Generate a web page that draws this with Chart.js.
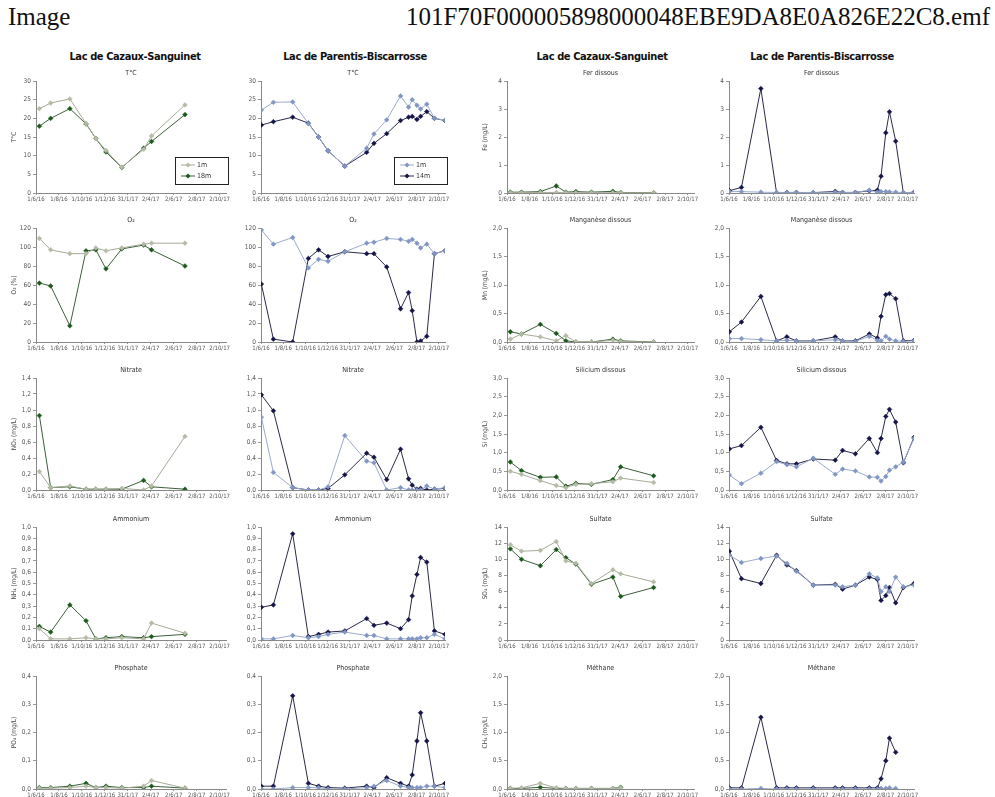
<!DOCTYPE html>
<html>
<head>
<meta charset="utf-8">
<script src="https://cdn.jsdelivr.net/npm/chart.js@4.4.0/dist/chart.umd.min.js"></script>
<style>
body { margin: 0; background: #fff; width: 995px; height: 797px; overflow: hidden; position: relative;
       font-family: "Liberation Sans Narrow", "DejaVu Sans Condensed", sans-serif; }
.hdr { position: absolute; top: 4px; font-family: "Liberation Serif", serif; font-size: 25px; line-height: 25px; color: #111; }
.lake { position: absolute; top: 50px; font-size: 11px; font-weight: bold; color: #111;
        transform: translateX(-50%); white-space: nowrap; letter-spacing: -0.4px; }
canvas { position: absolute; }
</style>
</head>
<body>
<div class="hdr" style="left:8px">Image</div>
<div class="hdr" style="right:5px">101F70F000005898000048EBE9DA8E0A826E22C8.emf</div>
<div class="lake" style="left:135px">Lac de Cazaux-Sanguinet</div>
<div class="lake" style="left:355px">Lac de Parentis-Biscarrosse</div>
<div class="lake" style="left:602px">Lac de Cazaux-Sanguinet</div>
<div class="lake" style="left:822px">Lac de Parentis-Biscarrosse</div>
<script>
// Sampling dates
const cazDates = ['2016-06-10', '2016-07-10', '2016-08-30', '2016-10-12', '2016-11-07',
                  '2016-12-04', '2017-01-15', '2017-03-14', '2017-04-04', '2017-07-02'];
const parDates = ['2016-06-02', '2016-07-05', '2016-08-27', '2016-10-09', '2016-11-06', '2016-12-02',
                  '2017-01-17', '2017-03-18', '2017-04-07', '2017-05-12', '2017-06-19', '2017-07-11',
                  '2017-07-21', '2017-08-03', '2017-08-13', '2017-08-30', '2017-09-20', '2017-10-19'];

// X axis
const axisStart = '2016-06-01';
const axisEnd = '2017-10-19';
const xTickDates = ['2016-06-01', '2016-08-01', '2016-10-01', '2016-12-01', '2017-01-31',
                    '2017-04-02', '2017-06-02', '2017-08-02', '2017-10-02'];
const xTickLabels = ['1/6/16', '1/8/16', '1/10/16', '1/12/16', '31/1/17', '2/4/17', '2/6/17', '2/8/17', '2/10/17'];

// Cazaux-Sanguinet, surface and deep
const cazTemp1 = [22.6, 24.1, 25.2, 18.6, 14.6, 11.4, 6.9, 11.7, 15.3, 23.6];
const cazTemp2 = [17.9, 20.0, 22.6, 18.5, 14.6, 11.0, 6.8, 12.0, 13.8, 21.0];
const cazO2_1 = [109, 97, 93, 93, 99, 96, 99, 103, 104, 104];
const cazO2_2 = [62, 59, 17, 96, 97, 77, 98, 102, 97, 80];
const cazNO3_1 = [0.23, 0.03, 0.05, 0.01, 0.01, 0.01, 0.02, 0.0, 0.05, 0.67];
const cazNO3_2 = [0.93, 0.03, 0.04, 0.01, 0.01, 0.01, 0.01, 0.12, 0.04, 0.01];
const cazNH4_1 = [0.10, 0.01, 0.01, 0.02, 0.01, 0.01, 0.02, 0.01, 0.15, 0.06];
const cazNH4_2 = [0.12, 0.07, 0.31, 0.17, 0.01, 0.02, 0.03, 0.02, 0.03, 0.05];
const cazPO4_1 = [0.003, 0.003, 0.005, 0.01, 0.005, 0.005, 0.003, 0.01, 0.03, 0.003];
const cazPO4_2 = [0.005, 0.005, 0.01, 0.02, 0.005, 0.01, 0.005, 0.005, 0.01, 0.003];
const cazFe1 = [0.01, 0.01, 0.02, 0.02, 0.01, 0.01, 0.01, 0.01, 0.01, 0.01];
const cazFe2 = [0.03, 0.03, 0.05, 0.25, 0.03, 0.05, 0.03, 0.06, 0.02, 0.01];
const cazMn1 = [0.05, 0.14, 0.09, 0.02, 0.11, 0.0, 0.0, 0.03, 0.01, 0.0];
const cazMn2 = [0.18, 0.14, 0.31, 0.15, 0.02, 0.0, 0.0, 0.05, 0.02, 0.0];
const cazSi1 = [0.50, 0.42, 0.25, 0.12, 0.06, 0.15, 0.17, 0.22, 0.32, 0.20];
const cazSi2 = [0.75, 0.52, 0.34, 0.35, 0.10, 0.18, 0.15, 0.28, 0.62, 0.38];
const cazSO4_1 = [11.8, 11.0, 11.1, 12.2, 9.8, 9.5, 7.0, 8.7, 8.2, 7.2];
const cazSO4_2 = [11.3, 10.0, 9.2, 11.2, 10.2, 9.4, 6.9, 7.8, 5.4, 6.5];
const cazCH4_1 = [0.01, 0.02, 0.10, 0.02, 0.01, 0.01, 0.01, 0.01, 0.02, null];
const cazCH4_2 = [0.01, 0.01, 0.03, 0.01, 0.01, 0.01, 0.01, 0.01, 0.03, null];

// Parentis-Biscarrosse, surface and deep
const parTemp1 = [22.2, 24.3, 24.4, 18.6, 15.0, 11.3, 7.2, 12.0, 15.8, 19.6, 26.0, 23.0, 25.0, 23.5, 22.5, 23.8, 20.0, 19.5];
const parTemp2 = [18.2, 19.1, 20.3, 18.7, 15.0, 11.3, 7.2, 10.9, 13.3, 15.9, 19.4, 20.3, 20.5, 19.7, 20.5, 21.8, 20.0, 19.4];
const parO2_1 = [118, 103, 110, 78, 87, 85, 95, 104, 105, 109, 108, 106, 108, 104, 99, 103, 93, 96];
const parO2_2 = [61, 3, 0, 88, 97, 90, 95, 93, 93, 79, 35, 52, 33, 0, 1, 6, 93, 96];
const parNO3_1 = [0.91, 0.22, 0.03, 0.0, 0.0, 0.04, 0.68, 0.36, 0.34, 0.0, 0.03, 0.0, 0.0, 0.0, 0.0, 0.05, 0.01, 0.03];
const parNO3_2 = [1.19, 0.99, 0.03, 0.0, 0.0, 0.02, 0.19, 0.46, 0.41, 0.13, 0.51, 0.14, 0.06, 0.01, 0.02, 0.0, 0.01, 0.02];
const parNH4_1 = [0.01, 0.01, 0.04, 0.02, 0.03, 0.05, 0.07, 0.04, 0.04, 0.01, 0.01, 0.01, 0.01, 0.01, 0.02, 0.02, 0.05, 0.01];
const parNH4_2 = [0.29, 0.31, 0.94, 0.03, 0.05, 0.07, 0.08, 0.19, 0.13, 0.15, 0.10, 0.18, 0.39, 0.58, 0.73, 0.69, 0.08, 0.05];
const parPO4_1 = [0.0, 0.0, 0.005, 0.005, 0.005, 0.0, 0.0, 0.005, 0.01, 0.03, 0.01, 0.005, 0.005, 0.005, 0.005, 0.01, 0.01, 0.005];
const parPO4_2 = [0.01, 0.01, 0.33, 0.02, 0.01, 0.005, 0.003, 0.01, 0.005, 0.04, 0.02, 0.01, 0.05, 0.17, 0.27, 0.17, 0.01, 0.02];
const parFe1 = [0.05, 0.05, 0.03, 0.02, 0.02, 0.02, 0.02, 0.03, 0.02, 0.02, 0.10, 0.03, 0.05, 0.05, 0.04, 0.03, 0.02, 0.02];
const parFe2 = [0.08, 0.20, 3.73, 0.0, 0.02, 0.02, 0.01, 0.06, 0.02, 0.02, 0.08, 0.10, 0.60, 2.15, 2.90, 1.85, 0.0, 0.03];
const parMn1 = [0.06, 0.06, 0.04, 0.02, 0.03, 0.02, 0.02, 0.04, 0.02, 0.01, 0.10, 0.03, 0.02, 0.10, 0.05, 0.02, 0.01, 0.02];
const parMn2 = [0.18, 0.35, 0.80, 0.02, 0.09, 0.02, 0.02, 0.09, 0.02, 0.02, 0.14, 0.07, 0.45, 0.83, 0.85, 0.76, 0.02, 0.03];
const parSi1 = [0.40, 0.17, 0.45, 0.76, 0.68, 0.62, 0.85, 0.42, 0.56, 0.51, 0.35, 0.34, 0.24, 0.36, 0.53, 0.62, 0.75, 1.38];
const parSi2 = [1.10, 1.19, 1.68, 0.79, 0.70, 0.70, 0.83, 0.80, 1.06, 0.97, 1.38, 1.00, 1.38, 1.97, 2.16, 1.82, 0.73, 1.41];
const parSO4_1 = [10.5, 9.6, 10.1, 10.4, 9.5, 8.5, 6.8, 6.8, 6.6, 6.8, 8.2, 7.7, 6.0, 6.6, 6.0, 7.8, 6.6, 6.8];
const parSO4_2 = [11.0, 7.6, 7.0, 10.5, 9.3, 8.6, 6.8, 6.9, 6.3, 6.8, 7.8, 7.5, 4.9, 5.5, 6.5, 4.6, 6.5, 7.0];
const parCH4_1 = [0.0, 0.0, 0.01, 0.0, 0.0, 0.0, 0.0, 0.0, 0.0, 0.0, 0.0, 0.0, 0.01, 0.01, 0.02, 0.01, null, null];
const parCH4_2 = [0.02, 0.02, 1.27, 0.02, 0.02, 0.02, 0.02, 0.02, 0.02, 0.02, 0.02, 0.02, 0.18, 0.50, 0.90, 0.65, null, null];

// Legend names per lake
const cazNames = ['1m', '18m'];
const parNames = ['1m', '14m'];

// Panel layout (pixels)
const colLeft = [36, 261, 507, 729];
const colWidth = [190, 184, 187, 185];
const rowTop = [81, 228, 378, 527, 676];
const rowBottom = [193, 342, 490, 640, 789];

const colours = {
    caz: { light: '#a4ab96', lightPt: '#b4bca6', dark: '#3d5f3d', darkPt: '#1c5a1c' },
    par: { light: '#9aaacb', lightPt: '#8196c4', dark: '#2a2a48', darkPt: '#15154a' }
};

// Panels
const panels = [
    { r: 0, c: 0, lake: 'caz', title: 'T°C', yTitle: 'T°C', max: 30, step: 5, dec: 0, s1: cazTemp1, s2: cazTemp2, legend: true },
    { r: 0, c: 1, lake: 'par', title: 'T°C', max: 30, step: 5, dec: 0, s1: parTemp1, s2: parTemp2, legend: true },
    { r: 1, c: 0, lake: 'caz', title: 'O₂', yTitle: 'O₂ (%)', max: 120, step: 20, dec: 0, s1: cazO2_1, s2: cazO2_2 },
    { r: 1, c: 1, lake: 'par', title: 'O₂', max: 120, step: 20, dec: 0, s1: parO2_1, s2: parO2_2 },
    { r: 2, c: 0, lake: 'caz', title: 'Nitrate', yTitle: 'NO₃ (mg/L)', max: 1.4, step: 0.2, dec: 1, s1: cazNO3_1, s2: cazNO3_2 },
    { r: 2, c: 1, lake: 'par', title: 'Nitrate', max: 1.4, step: 0.2, dec: 1, s1: parNO3_1, s2: parNO3_2 },
    { r: 3, c: 0, lake: 'caz', title: 'Ammonium', yTitle: 'NH₄ (mg/L)', max: 1.0, step: 0.1, dec: 1, s1: cazNH4_1, s2: cazNH4_2 },
    { r: 3, c: 1, lake: 'par', title: 'Ammonium', max: 1.0, step: 0.1, dec: 1, s1: parNH4_1, s2: parNH4_2 },
    { r: 4, c: 0, lake: 'caz', title: 'Phosphate', yTitle: 'PO₄ (mg/L)', max: 0.4, step: 0.1, dec: 1, s1: cazPO4_1, s2: cazPO4_2 },
    { r: 4, c: 1, lake: 'par', title: 'Phosphate', max: 0.4, step: 0.1, dec: 1, s1: parPO4_1, s2: parPO4_2 },
    { r: 0, c: 2, lake: 'caz', title: 'Fer dissous', yTitle: 'Fe (mg/L)', max: 4, step: 1, dec: 0, s1: cazFe1, s2: cazFe2 },
    { r: 0, c: 3, lake: 'par', title: 'Fer dissous', max: 4, step: 1, dec: 0, s1: parFe1, s2: parFe2 },
    { r: 1, c: 2, lake: 'caz', title: 'Manganèse dissous', yTitle: 'Mn (mg/L)', max: 2, step: 0.5, dec: 1, s1: cazMn1, s2: cazMn2 },
    { r: 1, c: 3, lake: 'par', title: 'Manganèse dissous', max: 2, step: 0.5, dec: 1, s1: parMn1, s2: parMn2 },
    { r: 2, c: 2, lake: 'caz', title: 'Silicium dissous', yTitle: 'Si (mg/L)', max: 3, step: 0.5, dec: 1, s1: cazSi1, s2: cazSi2 },
    { r: 2, c: 3, lake: 'par', title: 'Silicium dissous', max: 3, step: 0.5, dec: 1, s1: parSi1, s2: parSi2 },
    { r: 3, c: 2, lake: 'caz', title: 'Sulfate', yTitle: 'SO₄ (mg/L)', max: 14, step: 2, dec: 0, s1: cazSO4_1, s2: cazSO4_2 },
    { r: 3, c: 3, lake: 'par', title: 'Sulfate', max: 14, step: 2, dec: 0, s1: parSO4_1, s2: parSO4_2 },
    { r: 4, c: 2, lake: 'caz', title: 'Méthane', yTitle: 'CH₄ (mg/L)', max: 2, step: 0.5, dec: 1, s1: cazCH4_1, s2: cazCH4_2 },
    { r: 4, c: 3, lake: 'par', title: 'Méthane', max: 2, step: 0.5, dec: 1, s1: parCH4_1, s2: parCH4_2 }
];

const FONT = '"Liberation Sans Narrow", "DejaVu Sans Condensed", sans-serif';
const DAY = 86400000;

function dayOf(s) {
    const [y, m, d] = s.split('-').map(Number);
    const [y0, m0, d0] = axisStart.split('-').map(Number);
    return (Date.UTC(y, m - 1, d) - Date.UTC(y0, m0 - 1, d0)) / DAY;
}

// Panel title above plot
const titlePlugin = {
    id: 'panelTitle',
    afterDraw(chart, args, opts) {
        const { ctx, chartArea } = chart;
        ctx.save();
        ctx.font = '7px ' + FONT;
        ctx.fillStyle = '#333';
        ctx.textAlign = 'center';
        ctx.textBaseline = 'middle';
        ctx.fillText(opts.text, (chartArea.left + chartArea.right) / 2, chartArea.top - 8);
        ctx.restore();
    }
};

// Boxed legend inside plot
const boxLegend = {
    id: 'boxLegend',
    afterDraw(chart, args, opts) {
        if (!opts.show) return;
        const { ctx, chartArea } = chart;
        const w = 53, h = 27;
        const x = chartArea.right - w + 2, y = chartArea.bottom - 9 - h;
        ctx.save();
        ctx.fillStyle = '#fff';
        ctx.fillRect(x, y, w, h);
        ctx.strokeStyle = '#222';
        ctx.lineWidth = 1;
        ctx.strokeRect(x + 0.5, y + 0.5, w, h);
        chart.data.datasets.forEach((ds, i) => {
            const ly = y + 8 + i * 11;
            ctx.strokeStyle = ds.borderColor;
            ctx.beginPath();
            ctx.moveTo(x + 6, ly);
            ctx.lineTo(x + 20, ly);
            ctx.stroke();
            ctx.fillStyle = ds.pointBackgroundColor;
            ctx.beginPath();
            ctx.moveTo(x + 13, ly - 2.5);
            ctx.lineTo(x + 15.5, ly);
            ctx.lineTo(x + 13, ly + 2.5);
            ctx.lineTo(x + 10.5, ly);
            ctx.closePath();
            ctx.fill();
            ctx.fillStyle = '#333';
            ctx.font = '7px ' + FONT;
            ctx.textBaseline = 'middle';
            ctx.fillText(ds.label, x + 22, ly);
        });
        ctx.restore();
    }
};

function makePanel(p) {
    const padL = 30, padR = 8, padT = 18, padB = 14;
    const plotH = rowBottom[p.r] - rowTop[p.r];
    const W = colWidth[p.c] + padL + padR;
    const H = plotH + padT + padB;
    const cv = document.createElement('canvas');
    cv.width = W;
    cv.height = H;
    cv.style.left = (colLeft[p.c] - padL) + 'px';
    cv.style.top = (rowTop[p.r] - padT) + 'px';
    cv.style.width = W + 'px';
    cv.style.height = H + 'px';
    document.body.appendChild(cv);

    const dates = p.lake === 'caz' ? cazDates : parDates;
    const names = p.lake === 'caz' ? cazNames : parNames;
    const col = colours[p.lake];
    const pts = arr => dates.map((d, i) => ({ x: dayOf(d), y: arr[i] }));
    const tickDays = xTickDates.map(dayOf);
    const fmt = v => v.toFixed(p.dec).replace('.', ',');

    new Chart(cv, {
        type: 'line',
        data: {
            datasets: [
                { label: names[0], data: pts(p.s1), borderColor: col.light, borderWidth: 1,
                  pointStyle: 'rectRot', pointRadius: 2.4, pointBackgroundColor: col.lightPt,
                  pointBorderColor: col.lightPt, pointBorderWidth: 0.5, tension: 0 },
                { label: names[1], data: pts(p.s2), borderColor: col.dark, borderWidth: 1,
                  pointStyle: 'rectRot', pointRadius: 2.4, pointBackgroundColor: col.darkPt,
                  pointBorderColor: col.darkPt, pointBorderWidth: 0.5, tension: 0 }
            ]
        },
        options: {
            responsive: false,
            animation: false,
            devicePixelRatio: 1,
            layout: { padding: { left: 0, right: padR, top: padT, bottom: 0 } },
            plugins: {
                legend: { display: false },
                tooltip: { enabled: false },
                panelTitle: { text: p.title },
                boxLegend: { show: !!p.legend }
            },
            scales: {
                x: {
                    type: 'linear',
                    min: 0,
                    max: dayOf(axisEnd),
                    afterBuildTicks: s => { s.ticks = tickDays.map(v => ({ value: v })); },
                    afterFit: s => { s.height = padB; s.paddingLeft = 0; s.paddingRight = 0; },
                    ticks: {
                        autoSkip: false, maxRotation: 0, padding: 1, color: '#555',
                        font: { size: 6, family: FONT },
                        callback: (v, i) => xTickLabels[i]
                    },
                    grid: { drawOnChartArea: false, drawTicks: true, tickLength: 2, color: '#999' },
                    border: { color: '#888' }
                },
                y: {
                    min: 0,
                    max: p.max,
                    afterFit: s => { s.width = padL; s.paddingTop = 0; s.paddingBottom = 0; },
                    ticks: {
                        stepSize: p.step, padding: 2, color: '#555',
                        font: { size: 6.5, family: FONT },
                        callback: v => fmt(v)
                    },
                    title: {
                        display: !!p.yTitle, text: p.yTitle || '', color: '#444',
                        font: { size: 6.5, family: FONT }, padding: { top: 4, bottom: 0 }
                    },
                    grid: { drawOnChartArea: false, drawTicks: true, tickLength: 3, color: '#999' },
                    border: { color: '#888' }
                }
            }
        },
        plugins: [titlePlugin, boxLegend]
    });
}

panels.forEach(makePanel);
</script>
</body>
</html>
